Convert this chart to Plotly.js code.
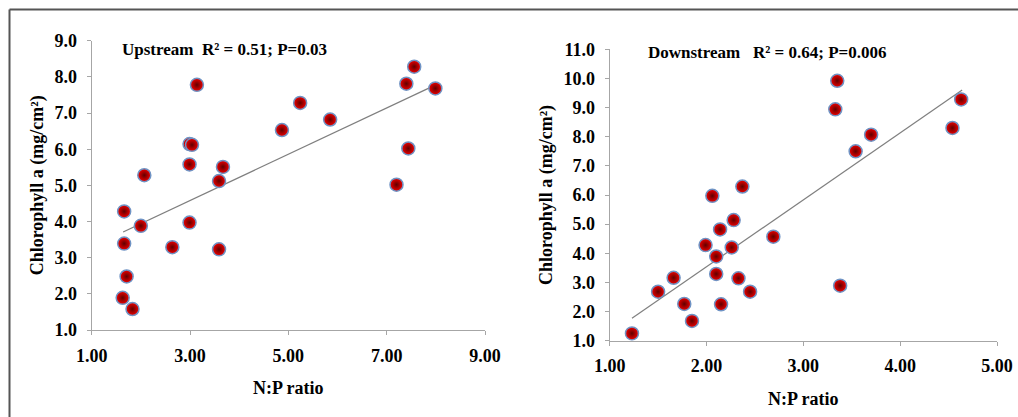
<!DOCTYPE html>
<html>
<head>
<meta charset="utf-8">
<script src="https://cdn.plot.ly/plotly-3.0.1.min.js"></script>
<style>
  html, body { margin: 0; padding: 0; background: #fff; }
  #chart { width: 1018px; height: 417px; }
</style>
</head>
<body>
<div id="chart"></div>
<script>
// Upstream data
const upX = [1.66, 1.66, 1.71, 1.63, 1.83, 2.00, 2.07, 2.64, 2.99, 2.99, 2.99, 3.04, 3.14, 3.59, 3.59, 3.67, 4.87, 5.24, 5.85, 7.20, 7.40, 7.44, 7.56, 7.99];
const upY = [4.28, 3.39, 2.48, 1.89, 1.58, 3.88, 5.28, 3.29, 3.97, 5.58, 6.14, 6.12, 7.78, 5.12, 3.23, 5.51, 6.53, 7.28, 6.82, 5.02, 7.81, 6.02, 8.28, 7.68];
const upTrendX = [1.64, 7.89];
const upTrendY = [3.71, 7.71];

// Downstream data
const downX = [1.23, 1.50, 1.66, 1.77, 1.85, 1.99, 2.06, 2.10, 2.10, 2.14, 2.15, 2.26, 2.28, 2.33, 2.37, 2.45, 2.69, 3.33, 3.35, 3.38, 3.54, 3.70, 4.54, 4.63];
const downY = [1.25, 2.68, 3.16, 2.26, 1.68, 4.28, 5.97, 3.89, 3.29, 4.82, 2.25, 4.20, 5.14, 3.14, 6.29, 2.68, 4.57, 8.94, 9.92, 2.89, 7.50, 8.07, 8.30, 9.28];
const downTrendX = [1.23, 4.64];
const downTrendY = [1.77, 9.60];

const upXTicks = [1, 3, 5, 7, 9];
const upYTicks = [1, 2, 3, 4, 5, 6, 7, 8, 9];
const downXTicks = [1, 2, 3, 4, 5];
const downYTicks = [1, 2, 3, 4, 5, 6, 7, 8, 9, 10, 11];

const upTitle = 'Upstream  R² = 0.51; P=0.03';
const downTitle = 'Downstream   R² = 0.64; P=0.006';
const xTitle = 'N:P ratio';
const yTitle = 'Chlorophyll a (mg/cm²)';

const W = 1018, H = 417;
const serif = 'Liberation Serif';
const tickFont = {family: serif, size: 18, color: '#000', weight: 'bold'};
const titleFont = {family: serif, size: 18, color: '#000', weight: 'bold'};
const annFont = {family: serif, size: 17, color: '#000', weight: 'bold'};

const marker = {
  size: 13,
  color: '#f00000',
  gradient: {type: 'radial', color: '#600000'},
  line: {color: '#6f93c4', width: 1.5}
};
const trendLine = {color: '#7f7f7f', width: 1.2};

const traces = [
  {x: upTrendX, y: upTrendY, mode: 'lines', line: trendLine, xaxis: 'x', yaxis: 'y', hoverinfo: 'skip'},
  {x: upX, y: upY, mode: 'markers', marker: marker, xaxis: 'x', yaxis: 'y'},
  {x: downTrendX, y: downTrendY, mode: 'lines', line: trendLine, xaxis: 'x2', yaxis: 'y2', hoverinfo: 'skip'},
  {x: downX, y: downY, mode: 'markers', marker: marker, xaxis: 'x2', yaxis: 'y2'}
];

function axis(opts) {
  return Object.assign({
    showgrid: false, zeroline: false, showline: true,
    linecolor: '#a6a6a6', linewidth: 1,
    ticks: 'outside', ticklen: 4, tickcolor: '#a6a6a6', tickwidth: 1,
    tickfont: tickFont, tickmode: 'array', fixedrange: true
  }, opts);
}

const layout = {
  width: W, height: H,
  margin: {l: 0, r: 0, t: 0, b: 0},
  paper_bgcolor: '#fff', plot_bgcolor: '#fff',
  showlegend: false,
  xaxis: axis({domain: [91.7 / W, 485 / W], range: [1, 9], tickvals: upXTicks, ticktext: upXTicks.map(v => v.toFixed(2)), anchor: 'y',
    ticklabelstandoff: 5, title: {text: xTitle, font: titleFont}}),
  yaxis: axis({domain: [1 - 330 / H, 1 - 40.7 / H], range: [1, 9], tickvals: upYTicks, ticktext: upYTicks.map(v => v.toFixed(1)), anchor: 'x',
    ticklabelstandoff: 6, title: {text: yTitle, font: titleFont, standoff: 6}}),
  xaxis2: axis({domain: [609.7 / W, 997 / W], range: [1, 5], tickvals: downXTicks, ticktext: downXTicks.map(v => v.toFixed(2)), anchor: 'y2',
    ticklabelstandoff: 5, title: {text: xTitle, font: titleFont}}),
  yaxis2: axis({domain: [1 - 340.7 / H, 1 - 49.3 / H], range: [1, 11], tickvals: downYTicks, ticktext: downYTicks.map(v => v.toFixed(1)), anchor: 'x2',
    ticklabelstandoff: 6, title: {text: yTitle, font: titleFont, standoff: 6}}),
  annotations: [
    {text: upTitle, xref: 'paper', yref: 'paper', x: 224 / W, y: 1 - 49 / H, xanchor: 'center', yanchor: 'middle', showarrow: false, font: annFont},
    {text: downTitle, xref: 'paper', yref: 'paper', x: 767 / W, y: 1 - 53 / H, xanchor: 'center', yanchor: 'middle', showarrow: false, font: annFont}
  ],
  shapes: [
    {type: 'line', xref: 'paper', yref: 'paper', x0: 9.5 / W, x1: 1, y0: 1 - 9.5 / H, y1: 1 - 9.5 / H, line: {color: '#555', width: 2}},
    {type: 'line', xref: 'paper', yref: 'paper', x0: 9.5 / W, x1: 9.5 / W, y0: 0, y1: 1 - 9.5 / H, line: {color: '#555', width: 2}}
  ]
};

Plotly.newPlot('chart', traces, layout, {staticPlot: true, displayModeBar: false});
</script>
</body>
</html>
